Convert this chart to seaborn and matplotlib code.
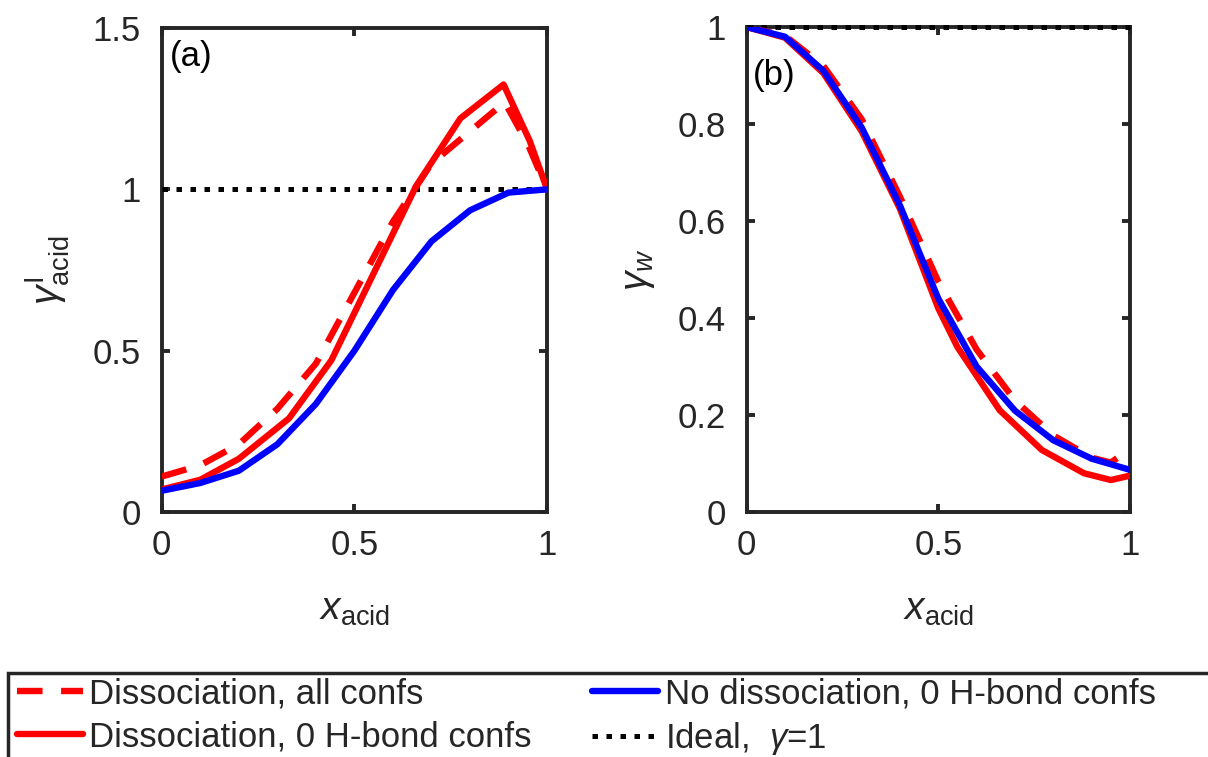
import matplotlib
matplotlib.use("Agg")
import matplotlib.pyplot as plt
from matplotlib import font_manager
from matplotlib.patches import Rectangle
from matplotlib.ticker import FuncFormatter
import seaborn as sns

# panel (a): activity coefficient of the acid
xa_dash = [0, 0.1, 0.2, 0.3, 0.4, 0.5, 0.6, 0.7, 0.8, 0.89, 0.95, 1.0]
ya_dash = [0.11, 0.145, 0.21, 0.32, 0.46, 0.68, 0.90, 1.08, 1.18, 1.27, 1.14, 1.0]
xa_solid = [0, 0.1, 0.2, 0.33, 0.44, 0.55, 0.66, 0.775, 0.887, 0.955, 1.0]
ya_solid = [0.07, 0.10, 0.165, 0.29, 0.47, 0.74, 1.01, 1.22, 1.325, 1.15, 1.0]
xa_blue = [0, 0.1, 0.2, 0.3, 0.4, 0.5, 0.6, 0.7, 0.8, 0.9, 1.0]
ya_blue = [0.066, 0.09, 0.128, 0.21, 0.335, 0.50, 0.688, 0.839, 0.935, 0.99, 1.0]

# panel (b): activity coefficient of water
xb_dash = [0, 0.1, 0.2, 0.3, 0.4, 0.5, 0.6, 0.7, 0.8, 0.9, 0.95, 1.0]
yb_dash = [1.0, 0.982, 0.92, 0.81, 0.65, 0.475, 0.335, 0.23, 0.158, 0.112, 0.102, 0.13]
xb_solid = [0, 0.1, 0.2, 0.3, 0.4, 0.5, 0.55, 0.66, 0.77, 0.88, 0.95, 1.0]
yb_solid = [1.0, 0.978, 0.905, 0.785, 0.625, 0.42, 0.34, 0.21, 0.128, 0.08, 0.066, 0.075]
xb_blue = [0, 0.1, 0.2, 0.3, 0.4, 0.5, 0.6, 0.7, 0.8, 0.9, 1.0]
yb_blue = [1.0, 0.98, 0.91, 0.793, 0.632, 0.44, 0.30, 0.209, 0.148, 0.11, 0.087]

# ideal solution, gamma = 1
x_ideal = [0, 1]
y_ideal = [1, 1]

labels = [
    "Dissociation, all confs",
    "Dissociation, 0 H-bond confs",
    "No dissociation, 0 H-bond confs",
    r"Ideal,  $\gamma$=1",
]

sns.set_style("ticks")
plt.rcParams["font.family"] = ["Liberation Sans", "DejaVu Sans"]
plt.rcParams["mathtext.fontset"] = "custom"
plt.rcParams["mathtext.rm"] = "Liberation Sans"
plt.rcParams["mathtext.it"] = "Liberation Sans:italic"

installed = {f.name for f in font_manager.fontManager.ttflist}
legend_font = "Liberation Sans Narrow" if "Liberation Sans Narrow" in installed else "Liberation Sans"
legend_size = 30 if legend_font == "Liberation Sans Narrow" else 25

dark = "#262626"
lw = 4.6
dash_style = (0, (4.0, 2.9))
dot_style = (0, (1.1, 1.7))

fig = plt.figure(figsize=(12.08, 7.57), dpi=100)
ax_a = fig.add_axes([0.1339, 0.3236, 0.3190, 0.6394])
ax_b = fig.add_axes([0.6181, 0.3236, 0.3173, 0.6407])


def draw(ax, xd, yd, xs, ys, xbl, ybl):
    sns.lineplot(x=x_ideal, y=y_ideal, ax=ax, color="black", linewidth=3.6,
                 linestyle=dot_style, label=labels[3], legend=False,
                 clip_on=False, zorder=2)
    sns.lineplot(x=xd, y=yd, ax=ax, color="red", linewidth=lw, linestyle=dash_style,
                 label=labels[0], legend=False, sort=False, zorder=3)
    sns.lineplot(x=xs, y=ys, ax=ax, color="red", linewidth=lw,
                 label=labels[1], legend=False, sort=False, zorder=4)
    sns.lineplot(x=xbl, y=ybl, ax=ax, color="blue", linewidth=lw,
                 label=labels[2], legend=False, sort=False, zorder=5)


draw(ax_a, xa_dash, ya_dash, xa_solid, ya_solid, xa_blue, ya_blue)
draw(ax_b, xb_dash, yb_dash, xb_solid, yb_solid, xb_blue, yb_blue)

fmt = FuncFormatter(lambda v, p: f"{v:g}")
for ax in (ax_a, ax_b):
    ax.set_xlim(0, 1)
    ax.set_xticks([0, 0.5, 1])
    ax.xaxis.set_major_formatter(fmt)
    ax.yaxis.set_major_formatter(fmt)
    for sp in ax.spines.values():
        sp.set_visible(True)
        sp.set_linewidth(2.8)
        sp.set_color(dark)
        sp.set_zorder(1)
    ax.tick_params(direction="in", length=6, width=2.8, color=dark,
                   labelcolor=dark, labelsize=25, top=True, right=True)
    ax.tick_params(axis="y", pad=15)
    ax.tick_params(axis="x", pad=12)
    ax.set_xlabel(r"$x_{\rm acid}$", fontsize=28, color=dark)
    ax.xaxis.set_label_coords(0.5, -0.165)

ax_a.set_ylim(0, 1.5)
ax_a.set_yticks([0, 0.5, 1, 1.5])
ax_a.set_ylabel(r"$\gamma^{\rm I}_{\rm acid}$", fontsize=28, color=dark)
ax_a.yaxis.set_label_coords(-0.233, 0.5)
ax_a.text(0.02, 0.975, "(a)", transform=ax_a.transAxes, fontsize=25,
          va="top", ha="left", color="black")

ax_b.set_ylim(0, 1)
ax_b.set_yticks([0, 0.2, 0.4, 0.6, 0.8, 1])
ax_b.set_ylabel(r"$\gamma_w$", fontsize=28, color=dark)
ax_b.yaxis.set_label_coords(-0.234, 0.5)
ax_b.text(0.016, 0.935, "(b)", transform=ax_b.transAxes, fontsize=25,
          va="top", ha="left", color="black")

# shared legend along the bottom, box runs off the canvas like the original
handles, labs = ax_a.get_legend_handles_labels()
order = [labs.index(l) for l in labels]
fig.legend([handles[i] for i in order], [labs[i] for i in order],
           loc="upper left", bbox_to_anchor=(17 / 1208, 1 - 677 / 757),
           ncol=2, frameon=False, borderpad=0, borderaxespad=0,
           handlelength=1.9, handletextpad=0.18, columnspacing=1.75,
           labelspacing=0.3, prop={"family": legend_font, "size": legend_size})
fig.add_artist(Rectangle((8 / 1208, -0.2), 1.2, 0.2 + (757 - 673) / 757,
                         transform=fig.transFigure, fill=False,
                         edgecolor=dark, lw=2.5))

fig.savefig("out.png", dpi=100)
